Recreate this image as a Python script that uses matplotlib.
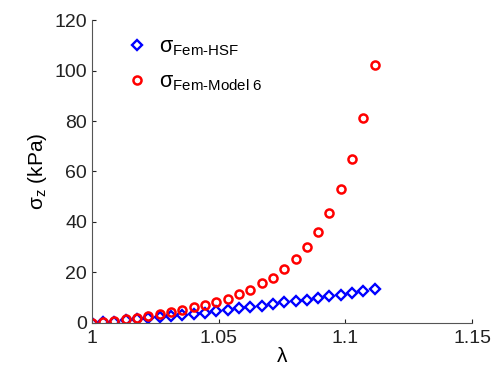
import numpy as np
import matplotlib.pyplot as plt

plt.rcParams['font.family'] = ['Liberation Sans', 'DejaVu Sans']
plt.rcParams['mathtext.fontset'] = 'custom'
plt.rcParams['mathtext.rm'] = 'Liberation Sans'
plt.rcParams['mathtext.it'] = 'Liberation Sans'
plt.rcParams['mathtext.sf'] = 'Liberation Sans'

# stretch ratio (26 load steps)
lam = np.linspace(1.0, 1.1116, 26)

# stresses (kPa)
sigma_hsf = [0, 0.3, 0.5, 1.1, 1.5, 2.0, 2.4, 2.8, 3.2, 3.6, 4.1, 4.7, 5.2,
             5.8, 6.3, 6.8, 7.5, 8.1, 8.6, 9.1, 9.8, 10.5, 11.2, 11.8, 12.5, 13.3]
sigma_model6 = [0, 0.5, 0.9, 1.6, 2.0, 2.6, 3.4, 4.4, 5.1, 6.2, 7.0, 8.2, 9.6,
                11.4, 13.2, 15.7, 17.9, 21.4, 25.2, 30.0, 36.0, 43.4, 52.9,
                65.1, 81.1, 102.2]

fig = plt.figure(figsize=(4.99, 3.72), dpi=100)
ax = fig.add_axes([0.184, 0.132, 0.762, 0.814])

ax.plot(lam, sigma_hsf, 'D', color='blue', markerfacecolor='none',
        markersize=4.8, markeredgewidth=1.7, label=r'$\mathrm{\sigma}_{\text{Fem-HSF}}$')
ax.plot(lam, sigma_model6, 'o', color='red', markerfacecolor='none',
        markersize=5.8, markeredgewidth=1.8, label=r'$\mathrm{\sigma}_{\text{Fem-Model 6}}$')

ax.set_xlim(1, 1.15)
ax.set_ylim(0, 120)
ax.set_xticks([1, 1.05, 1.1, 1.15])
ax.set_xticklabels(['1', '1.05', '1.1', '1.15'])
ax.set_yticks(np.arange(0, 121, 20))

ax.spines['top'].set_visible(False)
ax.spines['right'].set_visible(False)
ax.spines['left'].set_color('#555555')
ax.spines['bottom'].set_color('#555555')
ax.tick_params(direction='in', length=3, labelsize=14, colors='#222222')
ax.tick_params(axis='x', pad=5)

ax.set_xlabel(r'$\mathrm{\lambda}$', fontsize=15, labelpad=0)
ax.set_ylabel(r'$\mathrm{\sigma}_z$ (kPa)', fontsize=15, labelpad=4)

ax.legend(loc='upper left', frameon=False, fontsize=15.5, handletextpad=0.2,
          handlelength=1.6, borderaxespad=0.3, bbox_to_anchor=(0.035, 0.995),
          labelspacing=0.6)

fig.savefig('out.png', dpi=100)
